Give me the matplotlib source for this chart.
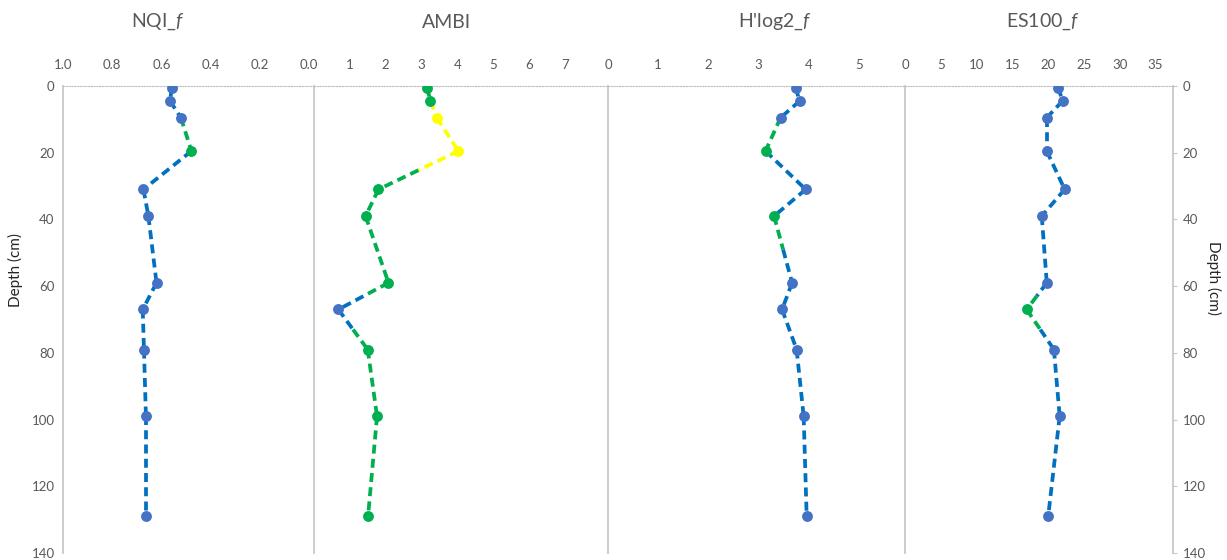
import matplotlib
matplotlib.use("Agg")
import matplotlib.pyplot as plt

plt.rcParams['font.family'] = ['Lato', 'DejaVu Sans']
plt.rcParams['mathtext.fontset'] = 'custom'
plt.rcParams['mathtext.rm'] = 'Lato'
plt.rcParams['mathtext.it'] = 'Lato:italic'

# ---------------- data ----------------
depth = [0.5, 4.5, 9.5, 19.5, 31, 39, 59, 67, 79, 99, 129]

nqi = [0.558, 0.565, 0.521, 0.478, 0.673, 0.653, 0.620, 0.676, 0.671, 0.663, 0.663]
ambi = [3.16, 3.25, 3.43, 4.03, 1.80, 1.44, 2.08, 0.68, 1.50, 1.76, 1.51]
hlog2 = [3.74, 3.82, 3.44, 3.14, 3.94, 3.31, 3.67, 3.47, 3.76, 3.90, 3.96]
es100 = [21.4, 22.0, 19.8, 19.8, 22.3, 19.1, 19.8, 17.0, 20.8, 21.6, 20.0]

# status codes per point (marker) and per segment (B=blue, G=green, Y=yellow;
# two letters = first half / second half of the segment)
nqi_mk = "BBBGBBBBBBB"
nqi_seg = ["B", "B", "G", "B", "B", "B", "B", "B", "B", "B"]
ambi_mk = "GGYYGGGBGGG"
ambi_seg = ["G", "Y", "Y", "YG", "G", "G", "GB", "BG", "G", "G"]
h_mk = "BBBGBGBBBBB"
h_seg = ["B", "B", "G", "B", "B", "GB", "B", "B", "B", "B"]
es_mk = "BBBBBBBGBBB"
es_seg = ["B", "B", "B", "B", "B", "B", "BG", "GB", "B", "B"]

titles = ["NQI_$\\mathit{f}$", "AMBI", "H'log2_$\\mathit{f}$", "ES100_$\\mathit{f}$"]
nqi_ticks = [1.0, 0.8, 0.6, 0.4, 0.2, 0.0]
ambi_ticks = [1, 2, 3, 4, 5, 6, 7]
h_ticks = [0, 1, 2, 3, 4, 5]
es_ticks = [0, 5, 10, 15, 20, 25, 30, 35]
depth_ticks = [0, 20, 40, 60, 80, 100, 120, 140]

LINE_C = {"B": "#0070C0", "G": "#00B050", "Y": "#FFFF00"}
MARK_C = {"B": "#4472C4", "G": "#00B050", "Y": "#FFFF00"}
GREY = "#595959"
SPINE = "#C8C8C8"

W, H = 1227, 560
fig = plt.figure(figsize=(W / 100, H / 100), dpi=100)

TOP, BOT = 86, 553


def make_ax(l, r):
    return fig.add_axes([l / W, 1 - BOT / H, (r - l) / W, (BOT - TOP) / H])


def draw(ax, vals, mk, seg):
    for i, code in enumerate(seg):
        x0, x1 = vals[i], vals[i + 1]
        y0, y1 = depth[i], depth[i + 1]
        if len(code) == 1:
            parts = [((x0, x1), (y0, y1), code)]
        else:
            xm, ym = (x0 + x1) / 2, (y0 + y1) / 2
            parts = [((x0, xm), (y0, ym), code[0]), ((xm, x1), (ym, y1), code[1])]
        for xs, ys, c in parts:
            ax.plot(xs, ys, color=LINE_C[c], lw=2.7, dashes=(2.4, 1.4),
                    solid_capstyle='butt', dash_capstyle='butt', zorder=2)
    for x, y, c in zip(vals, depth, mk):
        ax.plot([x], [y], 'o', ms=6.8, color=MARK_C[c], mec=MARK_C[c], zorder=3)


def style(ax, xlim, ticks, labels):
    ax.set_ylim(140, 0)
    ax.set_xlim(*xlim)
    ax.xaxis.tick_top()
    ax.set_xticks(ticks)
    ax.set_xticklabels(labels)
    ax.tick_params(axis='x', length=0, pad=11, labelsize=9.5, labelcolor=GREY)
    ax.set_yticks(depth_ticks)
    ax.tick_params(axis='y', length=0, labelleft=False, labelright=False)
    ax.spines['bottom'].set_visible(False)
    ax.spines['right'].set_visible(False)
    ax.spines['left'].set_color(SPINE)
    ax.spines['left'].set_linewidth(1.3)
    ax.spines['top'].set_color("#BFBFBF")
    ax.spines['top'].set_linewidth(0.8)
    ax.spines['top'].set_linestyle((0, (1, 1.5)))
    ax.patch.set_alpha(0)


ax1 = make_ax(63, 313)
draw(ax1, nqi, nqi_mk, nqi_seg)
style(ax1, (0.980, -0.016), nqi_ticks, ["%.1f" % t for t in nqi_ticks])
ax1.tick_params(axis='y', labelleft=True, labelsize=9.5, labelcolor=GREY, pad=6)

ax2 = make_ax(314, 608)
draw(ax2, ambi, ambi_mk, ambi_seg)
style(ax2, (0, 8.21), ambi_ticks, [str(t) for t in ambi_ticks])

ax3 = make_ax(608, 905)
draw(ax3, hlog2, h_mk, h_seg)
style(ax3, (0, 5.92), h_ticks, [str(t) for t in h_ticks])

ax4 = make_ax(905, 1173)
draw(ax4, es100, es_mk, es_seg)
style(ax4, (0, 37.43), es_ticks, [str(t) for t in es_ticks])
ax4.spines['right'].set_visible(True)
ax4.spines['right'].set_color(SPINE)
ax4.spines['right'].set_linewidth(1.3)
ax4.yaxis.tick_right()
ax4.tick_params(axis='y', labelright=True, labelsize=9.5, labelcolor=GREY,
                length=3, color=SPINE, pad=4)

# titles
for cx, t in zip([158, 446, 775, 1043], titles):
    fig.text(cx / W, 1 - 22 / H, t, ha='center', va='center', fontsize=14, color=GREY)

fig.text(15 / W, 1 - 270 / H, "Depth (cm)", rotation=90, ha='center', va='center',
         fontsize=11, color="#262626")
fig.text(1214 / W, 1 - 278 / H, "Depth (cm)", rotation=-90, ha='center', va='center',
         fontsize=11, color="#262626")

fig.savefig("out.png", dpi=100)
